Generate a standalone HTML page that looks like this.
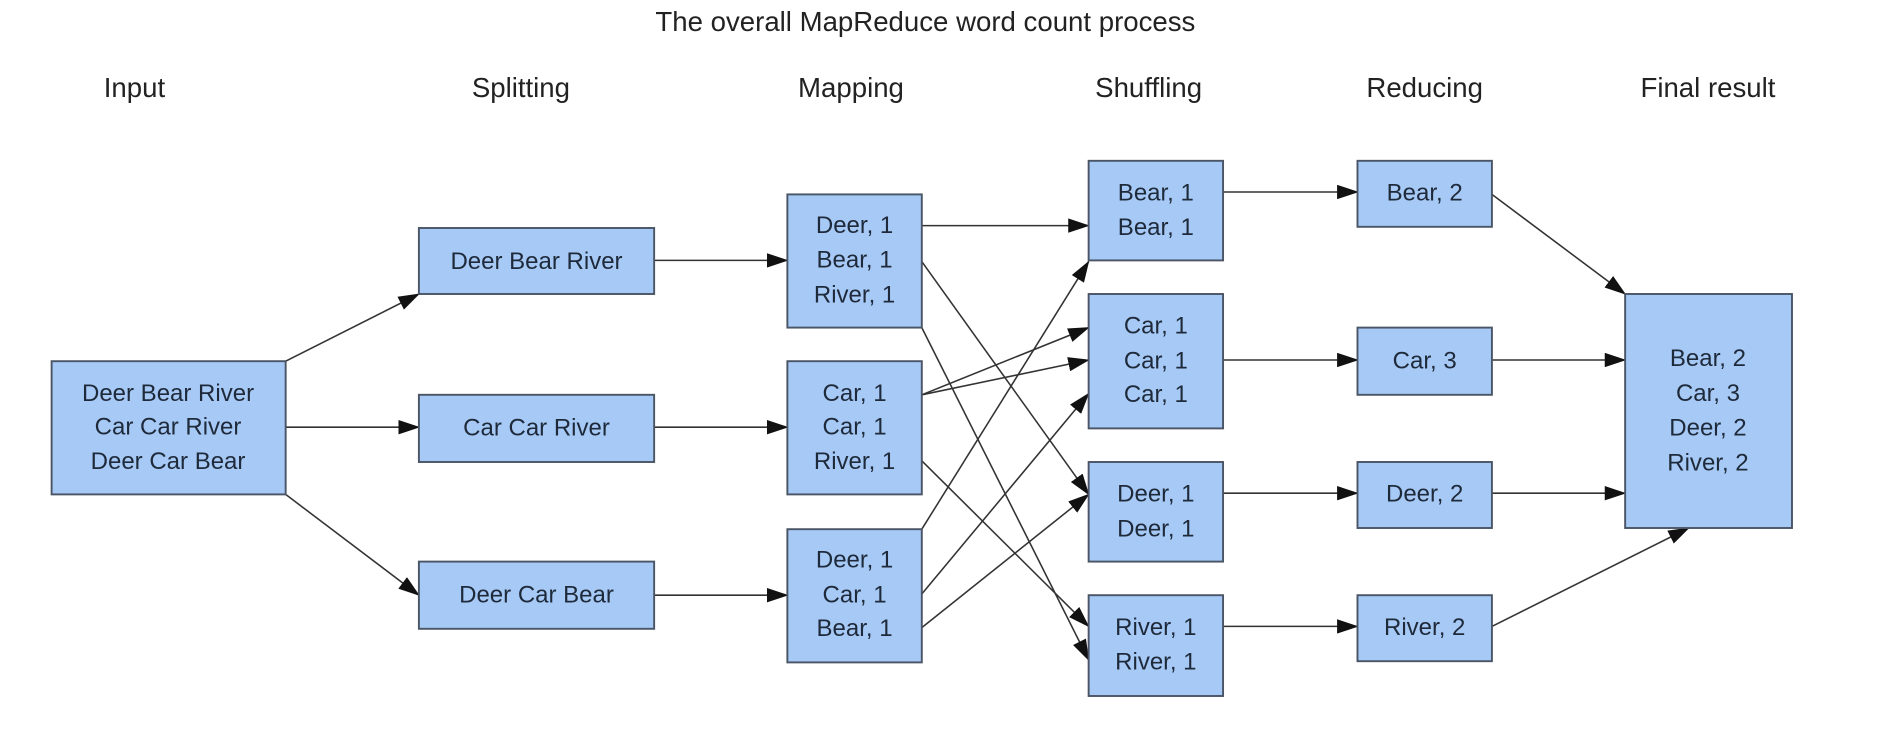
<!DOCTYPE html>
<html><head><meta charset="utf-8"><style>
html,body{margin:0;padding:0;background:#fff;}
svg{display:block;}
text{font-family:"Liberation Sans",sans-serif;fill:#1e2a3a;}
.b{fill:#a7c9f6;stroke:#4a5566;stroke-width:1.6;}
.l{stroke:#333;stroke-width:1.3;fill:none;marker-end:url(#a);}
.t{font-size:20px;text-anchor:middle;}
.h{font-size:23px;text-anchor:middle;fill:#222;}
</style></head><body>
<svg width="1882" height="744" viewBox="0 0 1568 620" preserveAspectRatio="none" xmlns="http://www.w3.org/2000/svg">
<defs><marker id="a" markerWidth="18" markerHeight="12" refX="17" refY="6" orient="auto" markerUnits="userSpaceOnUse"><path d="M0,0 L18,6 L0,12 Z" fill="#111"/></marker></defs>
<text class="h" x="771" y="26">The overall MapReduce word count process</text>
<text class="h" x="112" y="81">Input</text>
<text class="h" x="434" y="81">Splitting</text>
<text class="h" x="709" y="81">Mapping</text>
<text class="h" x="957" y="81">Shuffling</text>
<text class="h" x="1187" y="81">Reducing</text>
<text class="h" x="1423" y="81">Final result</text>

<!-- lines -->
<line class="l" x1="238" y1="301" x2="349" y2="245"/>
<line class="l" x1="238" y1="356" x2="349" y2="356"/>
<line class="l" x1="238" y1="412" x2="349" y2="496"/>
<line class="l" x1="545" y1="217" x2="656" y2="217"/>
<line class="l" x1="545" y1="356" x2="656" y2="356"/>
<line class="l" x1="545" y1="496" x2="656" y2="496"/>
<line class="l" x1="768" y1="188" x2="907" y2="188"/>
<line class="l" x1="768" y1="218" x2="907" y2="412"/>
<line class="l" x1="768" y1="273" x2="907" y2="550"/>
<line class="l" x1="768" y1="329" x2="907" y2="273"/>
<line class="l" x1="768" y1="329" x2="907" y2="300"/>
<line class="l" x1="768" y1="384" x2="907" y2="522"/>
<line class="l" x1="768" y1="441" x2="907" y2="218"/>
<line class="l" x1="768" y1="495" x2="907" y2="328"/>
<line class="l" x1="768" y1="523" x2="907" y2="412"/>
<line class="l" x1="1019" y1="160" x2="1131" y2="160"/>
<line class="l" x1="1019" y1="300" x2="1131" y2="300"/>
<line class="l" x1="1019" y1="411" x2="1131" y2="411"/>
<line class="l" x1="1019" y1="522" x2="1131" y2="522"/>
<line class="l" x1="1243" y1="162" x2="1354" y2="245"/>
<line class="l" x1="1243" y1="300" x2="1354" y2="300"/>
<line class="l" x1="1243" y1="411" x2="1354" y2="411"/>
<line class="l" x1="1243" y1="522" x2="1407" y2="440"/>

<!-- boxes -->
<rect class="b" x="43" y="301" width="195" height="111"/>
<text class="t" x="140" y="334">Deer Bear River</text><text class="t" x="140" y="362">Car Car River</text><text class="t" x="140" y="391">Deer Car Bear</text>

<rect class="b" x="349" y="190" width="196" height="55"/><text class="t" x="447" y="224">Deer Bear River</text>
<rect class="b" x="349" y="329" width="196" height="56"/><text class="t" x="447" y="363">Car Car River</text>
<rect class="b" x="349" y="468" width="196" height="56"/><text class="t" x="447" y="502">Deer Car Bear</text>

<rect class="b" x="656" y="162" width="112" height="111"/>
<text class="t" x="712" y="194">Deer, 1</text><text class="t" x="712" y="223">Bear, 1</text><text class="t" x="712" y="252">River, 1</text>
<rect class="b" x="656" y="301" width="112" height="111"/>
<text class="t" x="712" y="334">Car, 1</text><text class="t" x="712" y="362">Car, 1</text><text class="t" x="712" y="391">River, 1</text>
<rect class="b" x="656" y="441" width="112" height="111"/>
<text class="t" x="712" y="473">Deer, 1</text><text class="t" x="712" y="502">Car, 1</text><text class="t" x="712" y="530">Bear, 1</text>

<rect class="b" x="907" y="134" width="112" height="83"/>
<text class="t" x="963" y="167">Bear, 1</text><text class="t" x="963" y="196">Bear, 1</text>
<rect class="b" x="907" y="245" width="112" height="112"/>
<text class="t" x="963" y="278">Car, 1</text><text class="t" x="963" y="307">Car, 1</text><text class="t" x="963" y="335">Car, 1</text>
<rect class="b" x="907" y="385" width="112" height="83"/>
<text class="t" x="963" y="418">Deer, 1</text><text class="t" x="963" y="447">Deer, 1</text>
<rect class="b" x="907" y="496" width="112" height="84"/>
<text class="t" x="963" y="529">River, 1</text><text class="t" x="963" y="558">River, 1</text>

<rect class="b" x="1131" y="134" width="112" height="55"/><text class="t" x="1187" y="167">Bear, 2</text>
<rect class="b" x="1131" y="273" width="112" height="56"/><text class="t" x="1187" y="307">Car, 3</text>
<rect class="b" x="1131" y="385" width="112" height="55"/><text class="t" x="1187" y="418">Deer, 2</text>
<rect class="b" x="1131" y="496" width="112" height="55"/><text class="t" x="1187" y="529">River, 2</text>

<rect class="b" x="1354" y="245" width="139" height="195"/>
<text class="t" x="1423" y="305">Bear, 2</text><text class="t" x="1423" y="334">Car, 3</text><text class="t" x="1423" y="363">Deer, 2</text><text class="t" x="1423" y="392">River, 2</text>
</svg>
</body></html>
